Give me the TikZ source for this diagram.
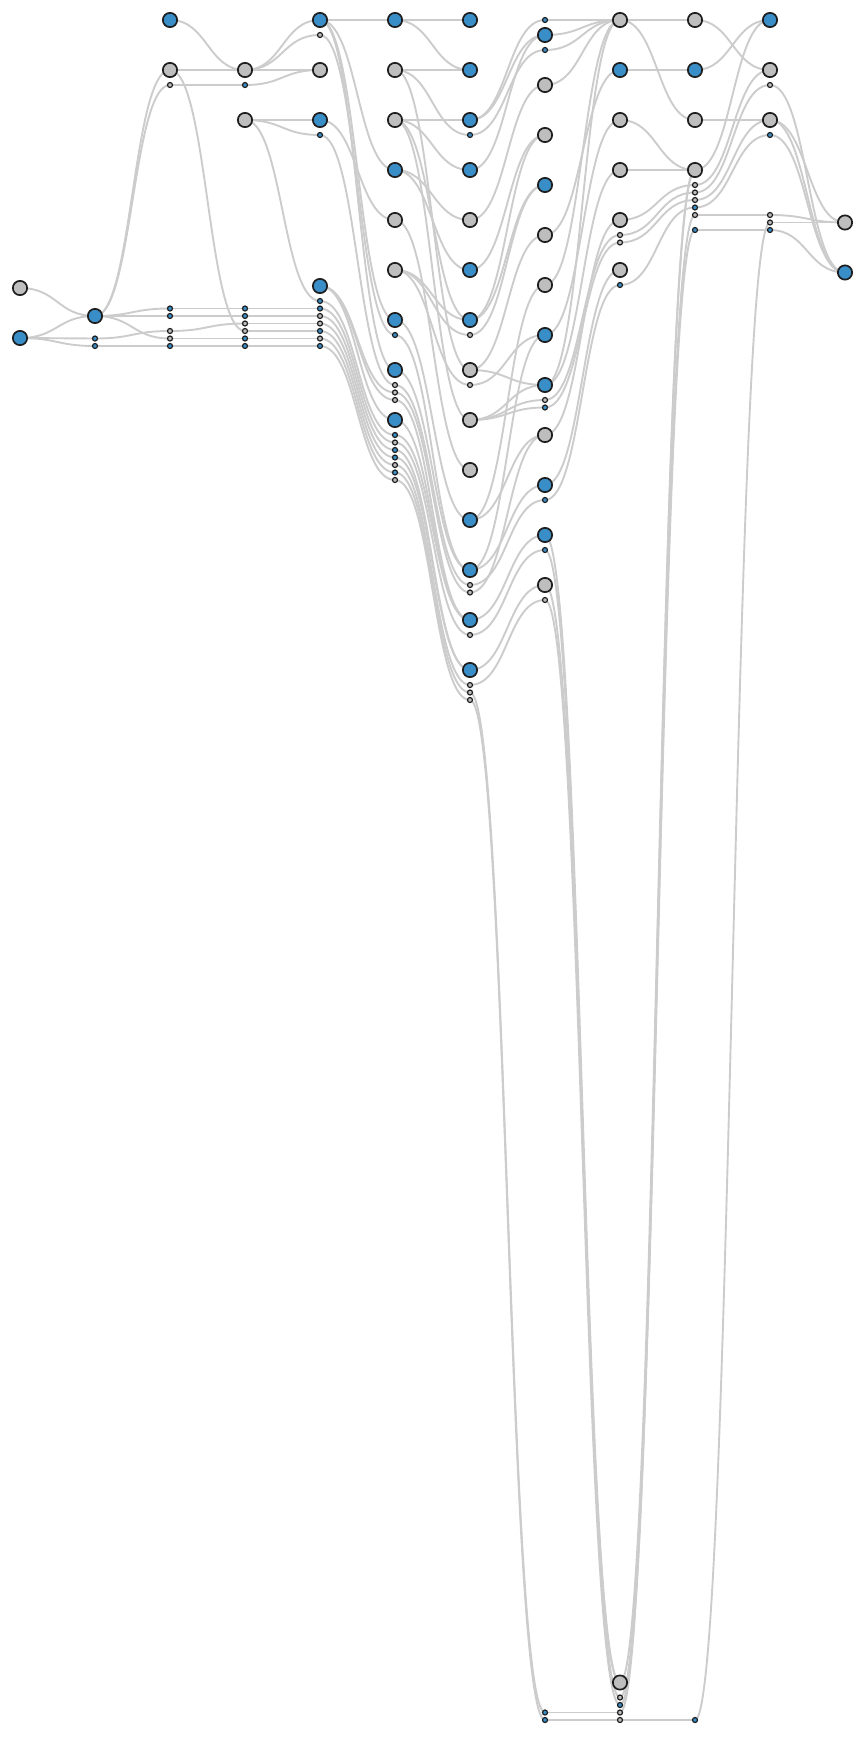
\documentclass[tikz,border=0pt]{standalone}
\usetikzlibrary{backgrounds,calc}
\definecolor{nb}{HTML}{3A8EC8}
\definecolor{ng}{HTML}{BEBEBE}
\definecolor{ed}{HTML}{CCCCCC}
\definecolor{st}{HTML}{1E1E1E}
\tikzset{
  bignode/.style={circle,draw=st,line width=1.7pt,minimum size=14.3pt,inner sep=0pt},
  smnode/.style={circle,draw=st,line width=1.2pt,minimum size=5pt,inner sep=0pt},
  edge/.style={draw=ed,line width=1.9pt}
}
\newcommand\BigN[4]{\node[bignode,fill=#4] (#1) at (#2,#3) {};}
\newcommand\SmN[4]{\node[smnode,fill=#4] (#1) at (#2,#3) {};}
\newcommand\lk[2]{\draw[edge] (#1.center) .. controls ($(#1.center)+(37.5pt,0)$) and ($(#2.center)+(-37.5pt,0)$) .. (#2.center);}
\begin{document}
\begin{tikzpicture}[x=1pt,y=-1pt]
\useasboundingbox (0,0) rectangle (865,1740);
% column 0
\BigN{A0}{20}{288}{ng}\BigN{A1}{20}{338}{nb}
% column 1
\BigN{B0}{95}{316}{nb}\SmN{B1}{95}{338.5}{nb}\SmN{B2}{95}{346}{nb}
% column 2
\BigN{C0}{170}{20}{nb}\BigN{C1}{170}{70}{ng}\SmN{C2}{170}{85}{ng}
\SmN{C3}{170}{308.5}{nb}\SmN{C4}{170}{316}{nb}\SmN{C5}{170}{331}{ng}\SmN{C6}{170}{338.5}{ng}\SmN{C7}{170}{346}{nb}
% column 3
\BigN{D0}{245}{70}{ng}\SmN{D1}{245}{85}{nb}\BigN{D2}{245}{120}{ng}
\SmN{D3}{245}{308.5}{nb}\SmN{D4}{245}{316}{nb}\SmN{D5}{245}{323.5}{ng}\SmN{D6}{245}{331}{ng}\SmN{D7}{245}{338.5}{nb}\SmN{D8}{245}{346}{nb}
% column 4
\BigN{E0}{320}{20}{nb}\SmN{E1}{320}{35}{ng}\BigN{E2}{320}{70}{ng}\BigN{E3}{320}{120}{nb}\SmN{E4}{320}{135}{nb}
\BigN{E5}{320}{286}{nb}\SmN{E6}{320}{301}{nb}\SmN{E7}{320}{308.5}{nb}\SmN{E8}{320}{316}{ng}\SmN{E9}{320}{323.5}{ng}\SmN{E10}{320}{331}{nb}\SmN{E11}{320}{338.5}{ng}\SmN{E12}{320}{346}{nb}
% column 5
\BigN{F0}{395}{20}{nb}\BigN{F1}{395}{70}{ng}\BigN{F2}{395}{120}{ng}\BigN{F3}{395}{170}{nb}\BigN{F4}{395}{220}{ng}\BigN{F5}{395}{270}{ng}
\BigN{F6}{395}{320}{nb}\SmN{F7}{395}{335}{nb}
\BigN{F8}{395}{370}{nb}\SmN{F9}{395}{385}{ng}\SmN{F10}{395}{392.5}{ng}\SmN{F11}{395}{400}{ng}
\BigN{F12}{395}{420}{nb}\SmN{F13}{395}{435}{nb}\SmN{F14}{395}{442.5}{ng}\SmN{F15}{395}{450}{nb}\SmN{F16}{395}{457.5}{nb}\SmN{F17}{395}{465}{ng}\SmN{F18}{395}{472.5}{nb}\SmN{F19}{395}{480}{ng}
% column 6
\BigN{G0}{470}{20}{nb}\BigN{G1}{470}{70}{nb}\BigN{G2}{470}{120}{nb}\SmN{G3}{470}{135}{nb}\BigN{G4}{470}{170}{nb}\BigN{G5}{470}{220}{ng}\BigN{G6}{470}{270}{nb}
\BigN{G7}{470}{320}{nb}\SmN{G8}{470}{335}{ng}\BigN{G9}{470}{370}{ng}\SmN{G10}{470}{385}{ng}\BigN{G11}{470}{420}{ng}\BigN{G12}{470}{470}{ng}
\BigN{G13}{470}{520}{nb}\BigN{G14}{470}{570}{nb}\SmN{G15}{470}{585}{ng}\SmN{G16}{470}{592.5}{ng}
\BigN{G17}{470}{620}{nb}\SmN{G18}{470}{635}{ng}\BigN{G19}{470}{670}{nb}\SmN{G20}{470}{685}{ng}\SmN{G21}{470}{692.5}{ng}\SmN{G22}{470}{700}{ng}
% column 7
\SmN{H0}{545}{20}{nb}\BigN{H1}{545}{35}{nb}\SmN{H2}{545}{50}{nb}\BigN{H3}{545}{85}{ng}\BigN{H4}{545}{135}{ng}\BigN{H5}{545}{185}{nb}\BigN{H6}{545}{235}{ng}\BigN{H7}{545}{285}{ng}
\BigN{H8}{545}{335}{nb}\BigN{H9}{545}{385}{nb}\SmN{H10}{545}{400}{ng}\SmN{H11}{545}{407.5}{nb}\BigN{H12}{545}{435}{ng}
\BigN{H13}{545}{485}{nb}\SmN{H14}{545}{500}{nb}\BigN{H15}{545}{535}{nb}\SmN{H16}{545}{550}{nb}\BigN{H17}{545}{585}{ng}\SmN{H18}{545}{600}{ng}
\SmN{H19}{545}{1712.5}{nb}\SmN{H20}{545}{1720}{nb}
% column 8
\BigN{I0}{620}{20}{ng}\BigN{I1}{620}{70}{nb}\BigN{I2}{620}{120}{ng}\BigN{I3}{620}{170}{ng}\BigN{I4}{620}{220}{ng}\SmN{I5}{620}{235}{ng}\SmN{I6}{620}{242.5}{ng}
\BigN{I7}{620}{270}{ng}\SmN{I8}{620}{285}{nb}
\BigN{I9}{620}{1682.5}{ng}\SmN{I10}{620}{1697.5}{ng}\SmN{I11}{620}{1705}{nb}\SmN{I12}{620}{1712.5}{ng}\SmN{I13}{620}{1720}{ng}
% column 9
\BigN{J0}{695}{20}{ng}\BigN{J1}{695}{70}{nb}\BigN{J2}{695}{120}{ng}\BigN{J3}{695}{170}{ng}
\SmN{J4}{695}{185}{ng}\SmN{J5}{695}{192.5}{ng}\SmN{J6}{695}{200}{ng}\SmN{J7}{695}{207.5}{nb}\SmN{J8}{695}{215}{ng}\SmN{J9}{695}{230}{nb}
\SmN{J10}{695}{1720}{nb}
% column 10
\BigN{K0}{770}{20}{nb}\BigN{K1}{770}{70}{ng}\SmN{K2}{770}{85}{ng}\BigN{K3}{770}{120}{ng}\SmN{K4}{770}{135}{nb}
\SmN{K5}{770}{215}{ng}\SmN{K6}{770}{222.5}{ng}\SmN{K7}{770}{230}{nb}
% column 11
\BigN{L0}{845}{222.5}{ng}\BigN{L1}{845}{272.5}{nb}
\begin{scope}[on background layer]
% 0-1
\lk{A0}{B0}\lk{A1}{B0}\lk{A1}{B1}\lk{A1}{B2}
% 1-2
\lk{B0}{C1}\lk{B0}{C2}\lk{B0}{C3}\lk{B0}{C4}\lk{B0}{C6}\lk{B1}{C5}\lk{B2}{C7}
% 2-3
\lk{C0}{D0}\lk{C1}{D0}\lk{C1}{D6}\lk{C2}{D1}\lk{C3}{D3}\lk{C4}{D4}\lk{C5}{D5}\lk{C6}{D7}\lk{C7}{D8}
% 3-4
\lk{D0}{E0}\lk{D0}{E1}\lk{D0}{E2}\lk{D1}{E2}\lk{D2}{E3}\lk{D2}{E4}\lk{D2}{E6}
\lk{D3}{E7}\lk{D4}{E8}\lk{D5}{E9}\lk{D6}{E10}\lk{D7}{E11}\lk{D8}{E12}
% 4-5
\lk{E0}{F0}\lk{E0}{F3}\lk{E0}{F6}\lk{E0}{F8}\lk{E1}{F7}\lk{E3}{F4}\lk{E4}{F9}
\lk{E5}{F10}\lk{E5}{F11}\lk{E5}{F12}\lk{E6}{F13}\lk{E7}{F14}\lk{E8}{F15}\lk{E9}{F16}\lk{E10}{F17}\lk{E11}{F18}\lk{E12}{F19}
% 5-6
\lk{F0}{G0}\lk{F0}{G1}\lk{F1}{G1}\lk{F1}{G3}\lk{F1}{G9}\lk{F2}{G2}\lk{F2}{G4}\lk{F2}{G7}\lk{F2}{G11}
\lk{F3}{G5}\lk{F3}{G6}\lk{F4}{G12}\lk{F5}{G7}\lk{F5}{G8}\lk{F5}{G10}
\lk{F6}{G13}\lk{F7}{G14}\lk{F8}{G14}\lk{F9}{G15}\lk{F10}{G16}\lk{F11}{G17}\lk{F12}{G17}\lk{F13}{G17}
\lk{F14}{G18}\lk{F15}{G19}\lk{F16}{G19}\lk{F17}{G20}\lk{F18}{G21}\lk{F19}{G22}
% 6-7
\lk{G2}{H0}\lk{G2}{H1}\lk{G3}{H2}\lk{G4}{H1}\lk{G5}{H3}\lk{G6}{H4}\lk{G7}{H4}\lk{G7}{H5}\lk{G8}{H5}
\lk{G9}{H6}\lk{G9}{H9}\lk{G10}{H8}\lk{G11}{H9}\lk{G11}{H10}\lk{G11}{H11}
\lk{G13}{H7}\lk{G13}{H12}\lk{G14}{H8}\lk{G14}{H13}\lk{G15}{H14}\lk{G16}{H12}
\lk{G17}{H15}\lk{G18}{H16}\lk{G19}{H17}\lk{G20}{H18}\lk{G21}{H19}\lk{G22}{H20}
% 7-8
\lk{H0}{I0}\lk{H1}{I0}\lk{H2}{I0}\lk{H3}{I0}\lk{H6}{I1}\lk{H7}{I0}\lk{H8}{I2}\lk{H9}{I0}\lk{H9}{I3}
\lk{H10}{I5}\lk{H11}{I6}\lk{H12}{I4}\lk{H13}{I7}\lk{H14}{I8}
\lk{H15}{I9}\lk{H16}{I10}\lk{H17}{I9}\lk{H18}{I11}\lk{H19}{I12}\lk{H20}{I13}
% 8-9
\lk{I0}{J0}\lk{I0}{J2}\lk{I1}{J1}\lk{I2}{J3}\lk{I3}{J3}\lk{I4}{J4}\lk{I5}{J5}\lk{I6}{J6}\lk{I8}{J7}
\lk{I9}{J3}\lk{I10}{J8}\lk{I11}{J9}\lk{I12}{J3}\lk{I13}{J10}
% 9-10
\lk{J0}{K1}\lk{J1}{K0}\lk{J2}{K3}\lk{J3}{K0}\lk{J4}{K1}\lk{J5}{K2}\lk{J6}{K3}\lk{J7}{K4}\lk{J8}{K5}\lk{J9}{K7}\lk{J10}{K6}
% 10-11
\lk{K2}{L1}\lk{K3}{L0}\lk{K3}{L1}\lk{K4}{L1}\lk{K5}{L0}\lk{K6}{L0}\lk{K7}{L1}
\end{scope}
\end{tikzpicture}
\end{document}
